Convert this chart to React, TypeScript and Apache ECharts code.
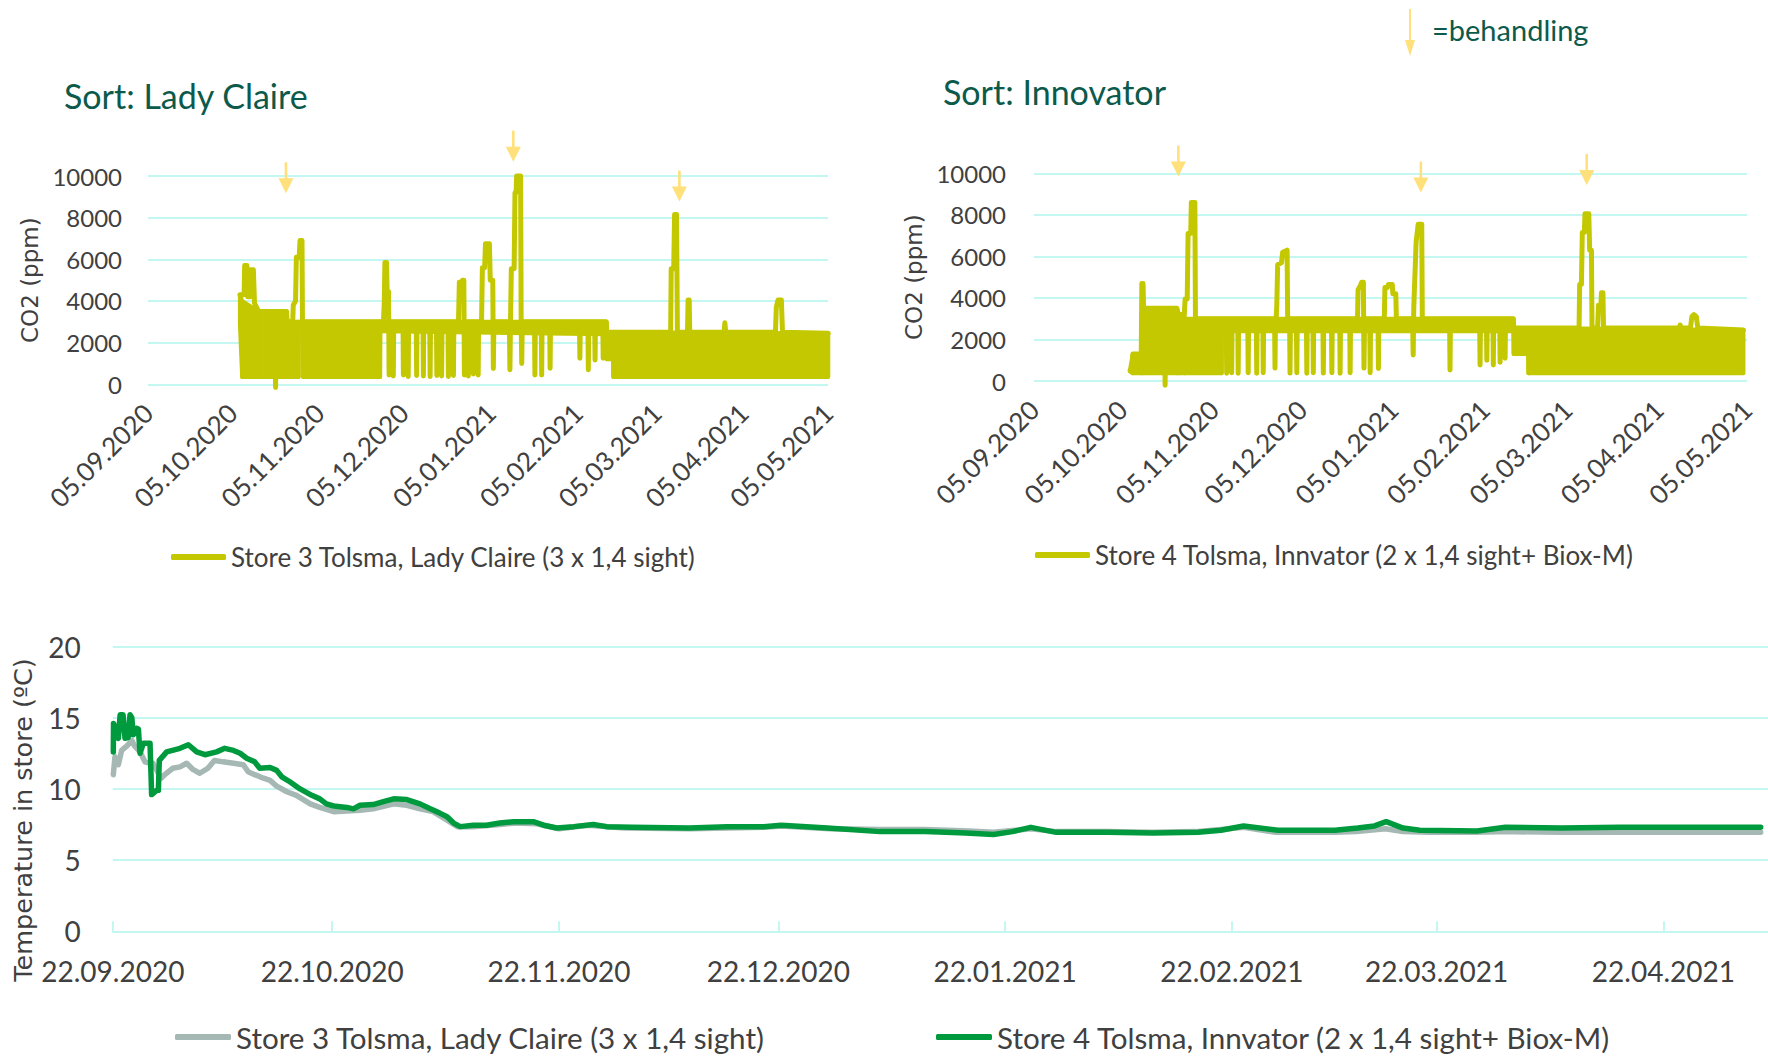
import React, { useEffect, useRef } from 'react';
import * as echarts from 'echarts';

// ---------- shared text ----------
const ladyName = 'Store 3 Tolsma, Lady Claire (3 x 1,4 sight)';
const innName = 'Store 4 Tolsma, Innvator (2 x 1,4 sight+ Biox-M)';

// ---------- CO2 axes (days since 05.09.2020) ----------
const co2TickDays = [0, 30, 61, 91, 122, 153, 181, 212, 242];
const co2TickLabels = ['05.09.2020', '05.10.2020', '05.11.2020', '05.12.2020', '05.01.2021', '05.02.2021', '05.03.2021', '05.04.2021', '05.05.2021'];

// ---------- Store 3, Lady Claire: CO2 trace [day, ppm] ----------
const ladyTrace: [number, number][] = [
  [32.7, 4300], [34.2, 4300], [34.4, 5700], [35.2, 5700], [35.5, 4200], [36.4, 4200], [36.6, 5500], [37.5, 5500], [37.9, 3900], [39.3, 3500],
  [45.2, 3500], [45.4, -150], [45.6, 3500], [49.3, 3500], [49.5, 3000],
  [51.5, 3000], [51.7, 3800], [52.5, 4000], [52.8, 6100], [53.8, 6100], [54.1, 6900], [54.8, 6900], [55.0, 2450], [55.2, 3000],
  [83.8, 3000], [84.1, 4000], [84.3, 5850], [84.9, 5850], [85.1, 4450], [85.6, 4450], [85.8, 450], [86.0, 3000],
  [87.15, 3000], [87.3, 400], [87.45, 3000],
  [90.75, 3000], [90.9, 450], [91.05, 3000],
  [92.45, 3000], [92.6, 380], [92.75, 3000],
  [95.45, 3000], [95.6, 420], [95.75, 3000],
  [97.85, 3000], [98.0, 400], [98.15, 3000],
  [100.25, 3000], [100.4, 380], [100.55, 3000],
  [102.65, 3000], [102.8, 420], [102.95, 3000],
  [104.35, 3000], [104.5, 400], [104.65, 3000],
  [106.75, 3000], [106.9, 380], [107.05, 3000],
  [108.55, 3000], [108.7, 420], [108.85, 3000],
  [110.5, 3000], [110.8, 4900], [111.6, 4900], [111.9, 5000], [112.4, 5000], [112.6, 450], [112.8, 3000],
  [113.85, 3000], [114.0, 400], [114.15, 3000],
  [115.65, 3000], [115.8, 500], [115.95, 3000],
  [117.35, 3000], [117.5, 450], [117.65, 3000],
  [118.7, 3000], [119.0, 5600], [119.8, 5600], [120.1, 6750], [121.5, 6750], [121.8, 5000], [122.7, 5000], [122.9, 760], [123.1, 3000],
  [128.6, 3000], [128.8, 700], [129.0, 3000], [129.3, 5550], [130.3, 5550], [130.6, 9200], [131.0, 9200], [131.2, 10000], [132.6, 10000], [132.8, 3000], [133.0, 1000], [133.2, 3000],
  [137.55, 3000], [137.7, 450], [137.85, 3000],
  [139.95, 3000], [140.1, 450], [140.25, 3000],
  [142.95, 3000], [143.1, 770], [143.25, 3000],
  [153.55, 3000], [153.7, 1250], [153.85, 3000],
  [156.55, 3000], [156.7, 700], [156.85, 3000],
  [158.95, 3000], [159.1, 1170], [159.25, 3000],
  [161.85, 3000], [162.0, 1250], [162.15, 3000],
  [163.0, 3000], [163.3, 2500],
  [186.0, 2500], [186.2, 5550], [187.1, 5550], [187.4, 8150], [188.1, 8150], [188.4, 2500],
  [192.0, 2500], [192.2, 4050], [192.6, 4050], [192.8, 2500],
  [205.0, 2500], [205.3, 2950], [205.6, 2500],
  [223.3, 2500], [223.6, 3700], [224.2, 4050], [225.4, 4050], [225.8, 2500],
  [242.1, 2450],
];
// dense ventilation band (lower / upper envelope)
const ladyBandDays = [32.7, 33.5, 39.3, 49.3, 49.5, 53.6, 53.7, 55.1, 55.2, 82.6, 82.7, 163.2, 163.3, 165.5, 165.6, 242.1];
const ladyBandLow = [2900, 350, 350, 350, 350, 350, 2500, 2500, 350, 350, 2550, 2400, 1200, 1200, 350, 350];
const ladyBandHigh = [4300, 4000, 3500, 3500, 3000, 3000, 3000, 3000, 3000, 3000, 3000, 3000, 2500, 2500, 2500, 2450];
// treatment arrows (day, ppm of arrow tip)
const ladyArrowDays = [49.1, 130.0, 189.1];
const ladyArrowTips = [9170, 10690, 8770];

// ---------- Store 4, Innovator: CO2 trace [day, ppm] ----------
const innTrace: [number, number][] = [
  [32.6, 500], [33.4, 500], [33.6, 1300], [36.4, 1300], [36.6, 4700], [37.0, 4700], [37.2, 3500],
  [44.3, 3500], [44.5, -200], [44.7, 3500], [48.5, 3500], [49.0, 3200], [51.0, 3200],
  [51.3, 3950], [52.0, 3950], [52.3, 7100], [53.2, 7100], [53.4, 8600], [54.6, 8600], [54.8, 3000],
  [65.25, 3000], [65.4, 370], [65.55, 3000],
  [66.95, 3000], [67.1, 400], [67.25, 3000],
  [69.15, 3000], [69.3, 370], [69.45, 3000],
  [72.55, 3000], [72.7, 400], [72.85, 3000],
  [75.45, 3000], [75.6, 370], [75.75, 3000],
  [77.65, 3000], [77.8, 400], [77.95, 3000],
  [81.65, 3000], [81.8, 620], [81.95, 3000],
  [82.2, 3000], [82.4, 3600], [82.7, 5600], [84.0, 5700], [84.4, 6200], [85.9, 6300], [86.1, 3000],
  [86.75, 3000], [86.9, 380], [87.05, 3000],
  [89.05, 3000], [89.2, 400], [89.35, 3000],
  [92.45, 3000], [92.6, 370], [92.75, 3000],
  [94.65, 3000], [94.8, 400], [94.95, 3000],
  [98.05, 3000], [98.2, 380], [98.35, 3000],
  [100.95, 3000], [101.1, 400], [101.25, 3000],
  [103.75, 3000], [103.9, 370], [104.05, 3000],
  [107.15, 3000], [107.3, 400], [107.45, 3000],
  [109.8, 3000], [110.0, 4400], [110.8, 4600], [111.2, 4750], [111.8, 4750], [112.0, 620], [112.2, 3000],
  [113.95, 3000], [114.1, 400], [114.25, 3000],
  [116.75, 3000], [116.9, 600], [117.05, 3000],
  [118.9, 3000], [119.1, 4500], [119.9, 4500], [120.3, 4650], [121.6, 4650], [121.8, 4200], [122.8, 4200], [123.0, 3000],
  [128.5, 3000], [128.7, 1250], [128.9, 3550], [129.7, 6700], [130.4, 7550], [131.6, 7550], [131.8, 3000],
  [141.05, 3000], [141.2, 530], [141.35, 3000],
  [151.25, 3000], [151.4, 770], [151.55, 3000],
  [153.55, 3000], [153.7, 1000], [153.85, 3000],
  [155.75, 3000], [155.9, 770], [156.05, 3000],
  [158.05, 3000], [158.2, 900], [158.35, 3000],
  [159.75, 3000], [159.9, 1100], [160.05, 3000],
  [162.7, 3000], [162.8, 2550],
  [185.0, 2550], [185.2, 4650], [185.8, 4650], [186.1, 7150], [186.8, 7150], [187.0, 8050], [188.3, 8050], [188.6, 6300], [189.2, 6300], [189.4, 2550],
  [191.3, 2550], [191.6, 3650], [192.4, 3650], [192.6, 4250], [193.1, 4250], [193.3, 2550],
  [219.1, 2550], [219.3, 2700], [219.6, 2550], [222.8, 2550], [223.3, 3100], [224.0, 3200], [224.8, 3100], [225.3, 2550],
  [240.8, 2450],
];
const innBandDays = [32.6, 33.5, 36.5, 36.7, 48.5, 49.0, 51.0, 51.2, 63.7, 63.8, 162.7, 162.8, 167.7, 167.8, 240.8];
const innBandLow = [450, 370, 370, 370, 370, 370, 370, 370, 370, 2400, 2400, 1300, 1300, 370, 370];
const innBandHigh = [550, 1300, 1300, 3500, 3500, 3200, 3200, 3000, 3000, 3000, 3000, 2550, 2550, 2550, 2450];
const innArrowDays = [49.0, 131.3, 187.6];
const innArrowTips = [9840, 9070, 9440];

// ---------- Temperature (days since 22.09.2020) ----------
const tempTickDays = [0, 30, 61, 91, 122, 153, 181, 212];
const tempTickLabels = ['22.09.2020', '22.10.2020', '22.11.2020', '22.12.2020', '22.01.2021', '22.02.2021', '22.03.2021', '22.04.2021'];

const store3Temp: [number, number][] = [
  [0.07, 11.0], [0.3, 12.25], [0.76, 11.7], [1.21, 12.7], [1.9, 13.0], [2.6, 13.4], [3.0, 13.0], [3.72, 12.6], [4.4, 11.9], [5.09, 11.8],
  [5.5, 11.8], [6.6, 10.75], [7.1, 11.0], [8.2, 11.45], [9.19, 11.55], [10.1, 11.8], [11.0, 11.35], [11.9, 11.1], [13.0, 11.45], [13.9, 12.0],
  [15.1, 11.9], [16.5, 11.8], [17.85, 11.7], [18.5, 11.2], [19.4, 11.0], [20.6, 10.75], [21.5, 10.6], [22.4, 10.2], [23.8, 9.8], [25.1, 9.55],
  [27.0, 8.95], [28.3, 8.7], [30.2, 8.4], [32.0, 8.45], [33.8, 8.5], [35.6, 8.6], [38.4, 8.95], [40.2, 8.85], [42.0, 8.6], [43.8, 8.4],
  [45.7, 7.8], [47.1, 7.35], [49.3, 7.35], [52.9, 7.5], [55, 7.6], [58, 7.55], [61, 7.2], [65, 7.45], [70, 7.25], [79, 7.2],
  [89, 7.3], [91.4, 7.4], [98, 7.2], [105, 7.15], [111, 7.15], [117, 7.05], [120.4, 6.95], [125.5, 7.2], [129, 7.0], [136, 7.0],
  [142, 6.95], [148, 7.0], [151.5, 7.15], [154.6, 7.3], [159, 6.95], [167, 6.95], [170, 7.0], [174, 7.2], [176.4, 7.0], [180, 6.95],
  [186.5, 6.95], [190.4, 7.0], [198, 6.95], [206, 6.95], [214, 6.95], [225.3, 6.95],
];
const store4Temp: [number, number][] = [
  [0.07, 12.6], [0.1, 14.6], [0.5, 14.0], [0.76, 13.55], [1.0, 15.2], [1.4, 15.2], [1.67, 13.55], [2.1, 13.6], [2.35, 15.2], [2.6, 15.0],
  [2.81, 13.8], [3.26, 14.25], [3.5, 14.2], [3.72, 12.5], [4.17, 13.2], [5.09, 13.2], [5.31, 9.6], [6.0, 9.9], [6.23, 9.9], [6.36, 12.0],
  [7.37, 12.6], [9.19, 12.85], [10.33, 13.1], [11.47, 12.6], [12.6, 12.4], [14.2, 12.6], [15.3, 12.85], [16.5, 12.7], [17.4, 12.5], [18.3, 12.15],
  [19.4, 11.9], [20.1, 11.45], [21.5, 11.5], [22.4, 11.3], [23.1, 10.85], [24.2, 10.5], [25.6, 10.0], [27.2, 9.55], [28.3, 9.3], [29.2, 8.95],
  [30.2, 8.8], [32.0, 8.7], [32.9, 8.6], [33.8, 8.85], [35.6, 8.9], [37.0, 9.1], [38.4, 9.3], [40.2, 9.25], [42.0, 8.95], [43.4, 8.6],
  [44.7, 8.3], [45.7, 8.05], [46.6, 7.6], [47.5, 7.35], [49.3, 7.45], [51.1, 7.45], [52.9, 7.6], [54.8, 7.7], [57.5, 7.7], [58.9, 7.45],
  [60.7, 7.25], [63, 7.35], [65.7, 7.5], [67.5, 7.35], [71, 7.3], [78.8, 7.25], [84, 7.35], [89, 7.35], [91.4, 7.45], [97.7, 7.25],
  [104.9, 7.0], [111.1, 7.0], [116.6, 6.9], [120.4, 6.8], [123, 7.0], [125.5, 7.3], [129, 6.95], [136, 6.95], [142.2, 6.9], [148.4, 6.95],
  [151.5, 7.1], [154.6, 7.4], [159.3, 7.1], [167.1, 7.1], [170.2, 7.25], [172.5, 7.4], [174.1, 7.7], [176.4, 7.25], [178.7, 7.1], [186.5, 7.05],
  [190.4, 7.3], [198.1, 7.25], [205.9, 7.3], [213.7, 7.3], [225.3, 7.3],
];

// ---------- styles ----------
const FONT = 'Lato, "Noto Sans", sans-serif';
const NAME_FONT = '"DejaVu Sans", Verdana, sans-serif';
const TEXT = '#404040';
const GRID = '#C4F7F1';
const CO2_COLOR = '#C4C800';
const ARROW_COLOR = '#FFE07A';
const TITLE_COLOR = '#0C5A4B';
const GRAY = '#A5B8B3';
const GREEN = '#009A3E';

function bandSeries(days: number[], low: number[], high: number[], color: string) {
  return {
    type: 'custom',
    name: 'band',
    coordinateSystem: 'cartesian2d',
    silent: true,
    clip: false,
    data: days.map((d, i) => [d, low[i], high[i]]),
    encode: { x: 0, y: [1, 2] },
    renderItem: (params: any, api: any) => {
      const i = params.dataIndexInside;
      if (i >= params.dataInsideLength - 1) return null;
      const d0 = api.value(0, i), l0 = api.value(1, i), h0 = api.value(2, i);
      const d1 = api.value(0, i + 1), l1 = api.value(1, i + 1), h1 = api.value(2, i + 1);
      const pts = [api.coord([d0, l0]), api.coord([d0, h0]), api.coord([d1, h1]), api.coord([d1, l1])];
      return { type: 'polygon', shape: { points: pts }, style: { fill: color, stroke: color, lineWidth: 4, lineJoin: 'round' } };
    },
  };
}

function arrowSeries(days: number[], tips: number[]) {
  return {
    type: 'custom',
    name: 'arrows',
    coordinateSystem: 'cartesian2d',
    silent: true,
    clip: false,
    z: 5,
    data: days.map((d, i) => [d, tips[i]]),
    encode: { x: 0, y: 1 },
    renderItem: (params: any, api: any) => {
      const p = api.coord([api.value(0), api.value(1)]);
      const x = p[0], y = p[1];
      return {
        type: 'group',
        children: [
          { type: 'rect', shape: { x: x - 1.3, y: y - 31, width: 2.6, height: 18 }, style: { fill: ARROW_COLOR } },
          { type: 'polygon', shape: { points: [[x - 7.5, y - 15], [x + 7.5, y - 15], [x, y]] }, style: { fill: ARROW_COLOR } },
        ],
      };
    },
  };
}

function co2Option(cfg: any) {
  return {
    animation: false,
    textStyle: { fontFamily: FONT },
    grid: { left: cfg.gridLeft, top: cfg.gridTop, width: cfg.gridWidth, height: cfg.gridHeight },
    xAxis: {
      type: 'value', min: 0, max: 242,
      axisLine: { show: false }, axisTick: { show: false }, splitLine: { show: false },
      axisLabel: {
        customValues: co2TickDays, rotate: 45, margin: 24, fontSize: 26, color: TEXT, fontFamily: FONT,
        formatter: (v: number) => { const k = co2TickDays.indexOf(v); return k >= 0 ? co2TickLabels[k] : ''; },
      },
    },
    yAxis: {
      type: 'value', min: 0, max: 10000, interval: 2000,
      name: 'CO2 (ppm)', nameLocation: 'middle', nameRotate: 90, nameGap: cfg.nameGap,
      nameTextStyle: { fontFamily: NAME_FONT, fontSize: 23, color: TEXT },
      axisLine: { show: false }, axisTick: { show: false },
      axisLabel: { margin: cfg.labelMargin, fontSize: 24, color: TEXT, fontFamily: FONT, formatter: (v: number) => String(v) },
      splitLine: { lineStyle: { color: GRID, width: 2 } },
    },
    legend: {
      data: [cfg.name], left: cfg.legendLeft, top: cfg.legendTop, padding: 0,
      icon: 'roundRect', itemWidth: 55, itemHeight: 6,
      textStyle: { fontFamily: FONT, fontSize: 26, color: TEXT },
    },
    graphic: cfg.graphic,
    series: [
      bandSeries(cfg.bandDays, cfg.bandLow, cfg.bandHigh, CO2_COLOR),
      {
        type: 'line', name: cfg.name, data: cfg.trace, showSymbol: false, symbol: 'none', clip: false, z: 3,
        color: CO2_COLOR,
        lineStyle: { color: CO2_COLOR, width: 5, cap: 'round', join: 'round' },
      },
      arrowSeries(cfg.arrowDays, cfg.arrowTips),
    ],
  };
}

const ladyOption = co2Option({
  gridLeft: 148, gridTop: 176, gridWidth: 680, gridHeight: 208.3,
  nameGap: 106, labelMargin: 26, legendLeft: 171, legendTop: 544,
  name: ladyName, trace: ladyTrace,
  bandDays: ladyBandDays, bandLow: ladyBandLow, bandHigh: ladyBandHigh,
  arrowDays: ladyArrowDays, arrowTips: ladyArrowTips,
  graphic: [
    { type: 'text', left: 64, top: 78, style: { text: 'Sort: Lady Claire', fontFamily: FONT, fontSize: 34, fill: TITLE_COLOR } },
  ],
});

const innOption = co2Option({
  gridLeft: 150, gridTop: 173.3, gridWidth: 713, gridHeight: 207.7,
  nameGap: 108, labelMargin: 28, legendLeft: 151, legendTop: 542,
  name: innName, trace: innTrace,
  bandDays: innBandDays, bandLow: innBandLow, bandHigh: innBandHigh,
  arrowDays: innArrowDays, arrowTips: innArrowTips,
  graphic: [
    { type: 'text', left: 59, top: 74, style: { text: 'Sort: Innovator', fontFamily: FONT, fontSize: 34, fill: TITLE_COLOR } },
    { type: 'text', left: 548, top: 15, style: { text: '=behandling', fontFamily: FONT, fontSize: 29, fill: TITLE_COLOR } },
    { type: 'rect', shape: { x: 525, y: 9, width: 2, height: 34 }, style: { fill: ARROW_COLOR } },
    { type: 'polygon', shape: { points: [[521, 40], [531, 40], [526, 56]] }, style: { fill: ARROW_COLOR } },
  ],
});

const tempOption = {
  animation: false,
  textStyle: { fontFamily: FONT },
  grid: { left: 112.8, top: 46.5, width: 1655.2, height: 284.8 },
  xAxis: {
    type: 'value', min: 0, max: 226.3,
    axisLine: { show: true, lineStyle: { color: GRID, width: 2 } },
    axisTick: { show: true, customValues: tempTickDays, inside: true, length: 10, lineStyle: { color: GRID, width: 2 } },
    splitLine: { show: false },
    axisLabel: {
      customValues: tempTickDays, margin: 26, fontSize: 28, color: TEXT, fontFamily: FONT,
      formatter: (v: number) => { const k = tempTickDays.indexOf(v); return k >= 0 ? tempTickLabels[k] : ''; },
    },
  },
  yAxis: {
    type: 'value', min: 0, max: 20, interval: 5,
    axisLine: { show: false }, axisTick: { show: false },
    axisLabel: { margin: 32, fontSize: 28, color: TEXT, fontFamily: FONT },
    splitLine: { lineStyle: { color: GRID, width: 2 } },
  },
  legend: [
    { data: [ladyName], left: 175, top: 422, padding: 0, icon: 'roundRect', itemWidth: 56, itemHeight: 6, textStyle: { fontFamily: FONT, fontSize: 29.6, color: TEXT } },
    { data: [innName], left: 936, top: 422, padding: 0, icon: 'roundRect', itemWidth: 56, itemHeight: 6, textStyle: { fontFamily: FONT, fontSize: 29.6, color: TEXT } },
  ],
  graphic: [
    {
      type: 'text', x: 22.5, y: 220, rotation: Math.PI / 2,
      style: { text: 'Temperature in store (ºC)', fontFamily: NAME_FONT, fontSize: 25.5, fill: TEXT, align: 'center', verticalAlign: 'middle' },
    },
  ],
  series: [
    { type: 'line', name: ladyName, data: store3Temp, symbol: 'none', color: GRAY, lineStyle: { color: GRAY, width: 5.5, join: 'round', cap: 'round' }, z: 2 },
    { type: 'line', name: innName, data: store4Temp, symbol: 'none', color: GREEN, lineStyle: { color: GREEN, width: 5.5, join: 'round', cap: 'round' }, z: 3 },
  ],
};

function EChart({ option, style }: { option: any; style: React.CSSProperties }) {
  const ref = useRef<HTMLDivElement>(null);
  useEffect(() => {
    const chart = echarts.init(ref.current as HTMLDivElement, null, { renderer: 'svg' });
    chart.setOption(option);
    return () => chart.dispose();
  }, [option]);
  return <div ref={ref} style={style} />;
}

export default function App() {
  useEffect(() => {
    document.body.style.margin = '0';
  }, []);
  return (
    <div style={{ position: 'fixed', left: 0, top: 0, width: 1768, height: 1058, background: '#ffffff', overflow: 'hidden' }}>
      <EChart option={ladyOption} style={{ position: 'absolute', left: 0, top: 0, width: 884, height: 600 }} />
      <EChart option={innOption} style={{ position: 'absolute', left: 884, top: 0, width: 884, height: 600 }} />
      <EChart option={tempOption} style={{ position: 'absolute', left: 0, top: 600, width: 1768, height: 458 }} />
    </div>
  );
}
